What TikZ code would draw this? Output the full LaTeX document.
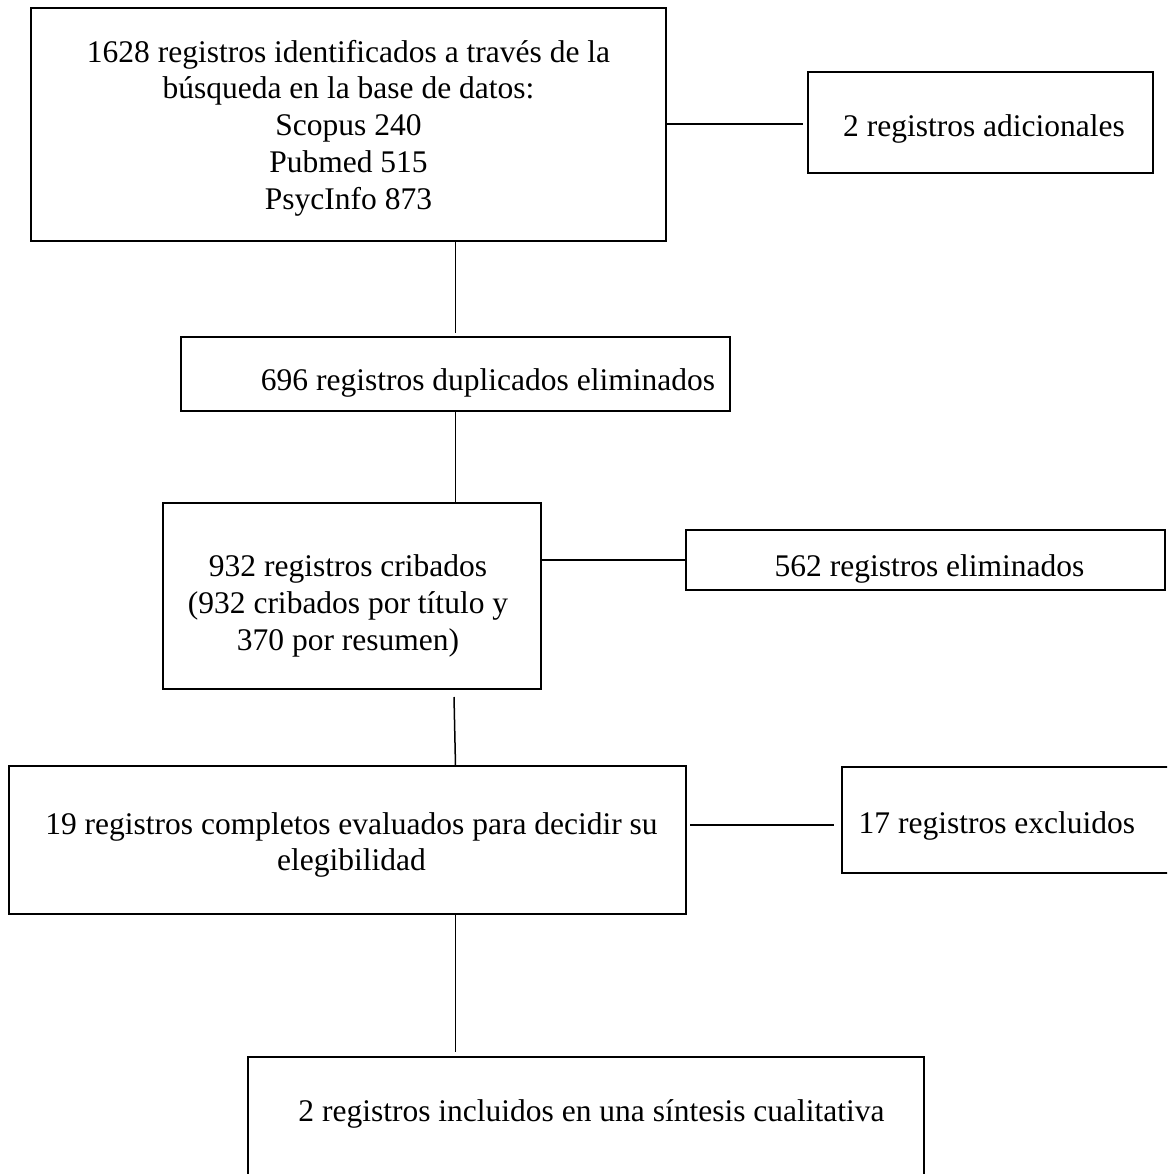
\documentclass[tikz,border=0pt]{standalone}
\usepackage{fontspec}
\setmainfont{Liberation Serif}
\begin{document}
\begin{tikzpicture}[x=1pt,y=-1pt,
  box/.style={draw, line width=1.5pt, inner sep=0pt, outer sep=0pt},
  txt/.style={font=\fontsize{31.5}{36.8}\selectfont, align=center, inner sep=0pt},
  conn/.style={line width=1.5pt},
  hconn/.style={line width=2pt}]
\useasboundingbox (0,0) rectangle (1167,1174);
\clip (0,0) rectangle (1167,1174);
% boxes
\node[box, minimum width=635pt, minimum height=233pt] (b1) at (348.5,124.5) {};
\node[txt] (t1) at (348.5,128) {1628 registros identificados a través de la\\búsqueda en la base de datos:\\Scopus 240\\Pubmed 515\\PsycInfo 873};
\node[box, minimum width=345pt, minimum height=101pt] (ba) at (980.5,122.5) {};
\node[txt] (ta) at (984,128.5) {2 registros adicionales};
\node[box, minimum width=549pt, minimum height=74pt] (b2) at (455.5,374) {};
\node[txt] (t2) at (488,383) {696 registros duplicados eliminados};
\node[box, minimum width=378pt, minimum height=186pt] (b3) at (352,596) {};
\node[txt] (t3) at (348,606) {932 registros cribados\\(932 cribados por título y\\370 por resumen)};
\node[box, minimum width=479pt, minimum height=60pt] (be) at (925.5,560) {};
\node[txt] (te) at (929.5,569) {562 registros eliminados};
\node[box, minimum width=677pt, minimum height=148pt] (b4) at (347.5,840) {};
\node[txt] (t4) at (351.5,845) {19 registros completos evaluados para decidir su\\elegibilidad};
\node[box, minimum width=338pt, minimum height=106pt] (bx) at (1011,820) {};
\node[txt, anchor=west] (tx) at (858.5,826) {17 registros excluidos};
\node[box, minimum width=676pt, minimum height=133pt] (b5) at (586,1123.5) {};
\node[txt] (t5) at (591.5,1114) {2 registros incluidos en una síntesis cualitativa};
% connectors
\draw[hconn] (b1.east) -- ([xshift=-5pt]b1.east -| ba.west);
\draw[conn] (b1.south -| b2.north) -- ([yshift=4pt]b2.north);
\draw[conn] (b2.south) -- (b2.south |- b3.north);
\draw[hconn] (b3.east |- be.west) -- (be.west);
\coordinate (c4a) at (454,697);
\draw[conn] (c4a) -- (b4.north -| b2.south);
\coordinate (c6a) at (690,825);
\draw[hconn] (c6a) -- ([xshift=-8pt]c6a -| bx.west);
\draw[conn] (b4.south -| b2.south) -- ([yshift=5pt]b5.north -| b2.south);
\end{tikzpicture}
\end{document}
